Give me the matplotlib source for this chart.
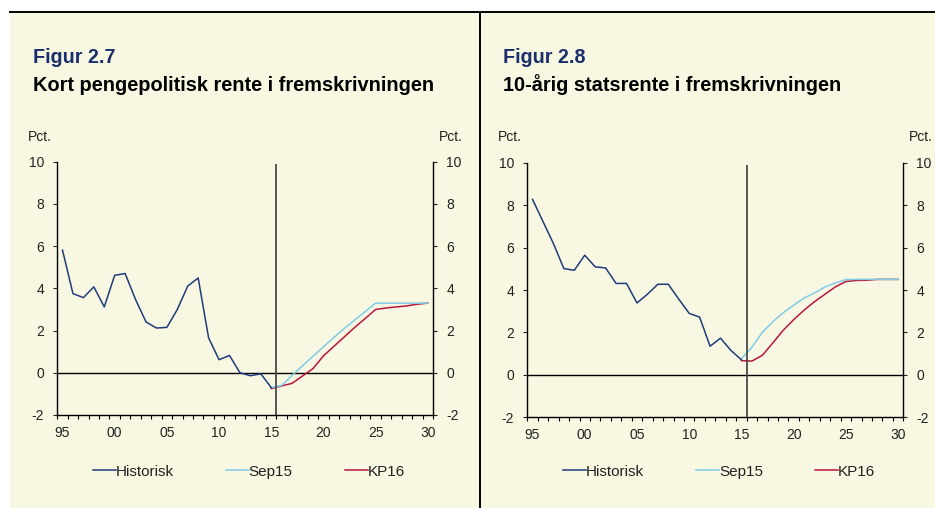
import matplotlib.pyplot as plt
from matplotlib.lines import Line2D
from matplotlib.patches import Rectangle

plt.rcParams['font.family'] = ['Liberation Sans', 'DejaVu Sans']
plt.rcParams['axes.unicode_minus'] = False

# Data
hist_years = list(range(1995, 2016))
proj_years = list(range(2015, 2031))

# Figur 2.7 - short policy rate
hist_short = [5.81, 3.75, 3.56, 4.07, 3.12, 4.62, 4.70, 3.47, 2.41, 2.12, 2.15,
              3.00, 4.11, 4.49, 1.65, 0.62, 0.82, 0.00, -0.14, -0.05, -0.70]
sep15_short = [-0.70, -0.60, -0.12, 0.33, 0.78, 1.23, 1.67, 2.10, 2.50, 2.90, 3.30,
               3.30, 3.30, 3.30, 3.30, 3.30]
kp16_short = [-0.75, -0.62, -0.50, -0.15, 0.20, 0.80, 1.25, 1.70, 2.15, 2.57, 3.00,
              3.07, 3.12, 3.17, 3.25, 3.30]

# Figur 2.8 - 10-year government bond rate
hist_long = [8.27, 7.23, 6.19, 5.01, 4.93, 5.64, 5.09, 5.04, 4.31, 4.31, 3.39,
             3.80, 4.27, 4.27, 3.57, 2.90, 2.72, 1.35, 1.73, 1.15, 0.71]
sep15_long = [0.76, 1.30, 2.00, 2.50, 2.93, 3.28, 3.62, 3.86, 4.14, 4.33, 4.49,
              4.50, 4.50, 4.50, 4.50, 4.50]
kp16_long = [0.67, 0.65, 0.92, 1.50, 2.10, 2.60, 3.05, 3.45, 3.80, 4.15, 4.40,
             4.45, 4.46, 4.50, 4.50, 4.50]

xtick_years = [1995, 2000, 2005, 2010, 2015, 2020, 2025, 2030]
xtick_labels = ['95', '00', '05', '10', '15', '20', '25', '30']
yticks = [-2, 0, 2, 4, 6, 8, 10]
forecast_split = 2015.5

BG = '#f8f7e1'
C_HIST = '#1f3b7b'
C_SEP = '#80cbe6'
C_KP = '#b8163d'
C_FIG = '#1a2f6b'
C_TXT = '#222222'

fig = plt.figure(figsize=(9.35, 5.08), dpi=100)
fig.patch.set_facecolor('white')

# cream background, top rule and divider
bg = Rectangle((10 / 935, 0), 925 / 935, 1 - 12 / 508, transform=fig.transFigure,
               facecolor=BG, edgecolor='none', zorder=-10)
fig.add_artist(bg)
fig.add_artist(Line2D([10 / 935, 1], [1 - 12 / 508] * 2, color='black', lw=1.4))
fig.add_artist(Line2D([479.5 / 935] * 2, [0, 1 - 12 / 508], color='black', lw=1.4))


def draw_panel(rect, hist, sep15, kp16, fig_no, title, tx, pct_l, pct_r):
    ax = fig.add_axes(rect)
    ax.set_facecolor('none')
    ax.plot(proj_years, kp16, color=C_KP, lw=1.1, label='KP16', zorder=3)
    ax.plot(proj_years, sep15, color=C_SEP, lw=1.1, label='Sep15', zorder=3)
    ax.plot(hist_years, hist, color=C_HIST, lw=1.1, label='Historisk', zorder=4)
    ax.axhline(0, color='black', lw=1.0, zorder=2)
    ax.vlines(forecast_split, -2, 9.9, color='#4a4a4a', lw=1.3, zorder=5)

    ax.set_xlim(1994.5, 2030.5)
    ax.set_ylim(-2, 10)
    ax.spines['top'].set_visible(False)
    for s in ['left', 'right', 'bottom']:
        ax.spines[s].set_linewidth(1.0)

    ax.set_yticks(yticks)
    ax.yaxis.set_ticks_position('both')
    ax.tick_params(axis='y', which='major', direction='out', length=3,
                   width=0.8, labelsize=10, pad=6.5, labelright=True,
                   colors=C_TXT)
    ax.set_xticks(xtick_years)
    ax.set_xticklabels(xtick_labels)
    ax.set_xticks([y + 0.5 for y in range(1994, 2031)], minor=True)
    ax.tick_params(axis='x', which='major', length=0, labelsize=10, pad=8,
                   colors=C_TXT)
    ax.tick_params(axis='x', which='minor', direction='out', length=3.2,
                   width=0.8)

    handles, labels = ax.get_legend_handles_labels()
    order = [2, 1, 0]
    x0, y0, w, h = rect
    leg = fig.legend([handles[i] for i in order], [labels[i] for i in order],
                     loc='center', bbox_to_anchor=(x0 + w / 2 + 0.004, 1 - 471.7 / 508),
                     ncol=3, frameon=False, fontsize=11, handlelength=1.5,
                     handletextpad=0.0, columnspacing=3.4)
    for t in leg.get_texts():
        t.set_color(C_TXT)

    fig.text(tx, 1 - 63.3 / 508, fig_no, fontsize=14.2, fontweight='bold',
             color=C_FIG, va='baseline', ha='left')
    fig.text(tx, 1 - 90.7 / 508, title, fontsize=14.4, fontweight='bold',
             color='black', va='baseline', ha='left')
    fig.text(pct_l, 1 - 137 / 508, 'Pct.', fontsize=10, va='center', ha='left',
             color=C_TXT)
    fig.text(pct_r, 1 - 137 / 508, 'Pct.', fontsize=10, va='center', ha='right',
             color=C_TXT)
    return ax


draw_panel([57.3 / 935, 1 - 415 / 508, 375.7 / 935, 253.3 / 508],
           hist_short, sep15_short, kp16_short,
           'Figur 2.7', 'Kort pengepolitisk rente i fremskrivningen',
           33 / 935, 28 / 935, 463 / 935)
draw_panel([527.3 / 935, 1 - 417.3 / 508, 376 / 935, 254.6 / 508],
           hist_long, sep15_long, kp16_long,
           'Figur 2.8', '10-årig statsrente i fremskrivningen',
           502.7 / 935, 498 / 935, 933 / 935)

fig.savefig('out.png', dpi=100, facecolor=fig.get_facecolor())
